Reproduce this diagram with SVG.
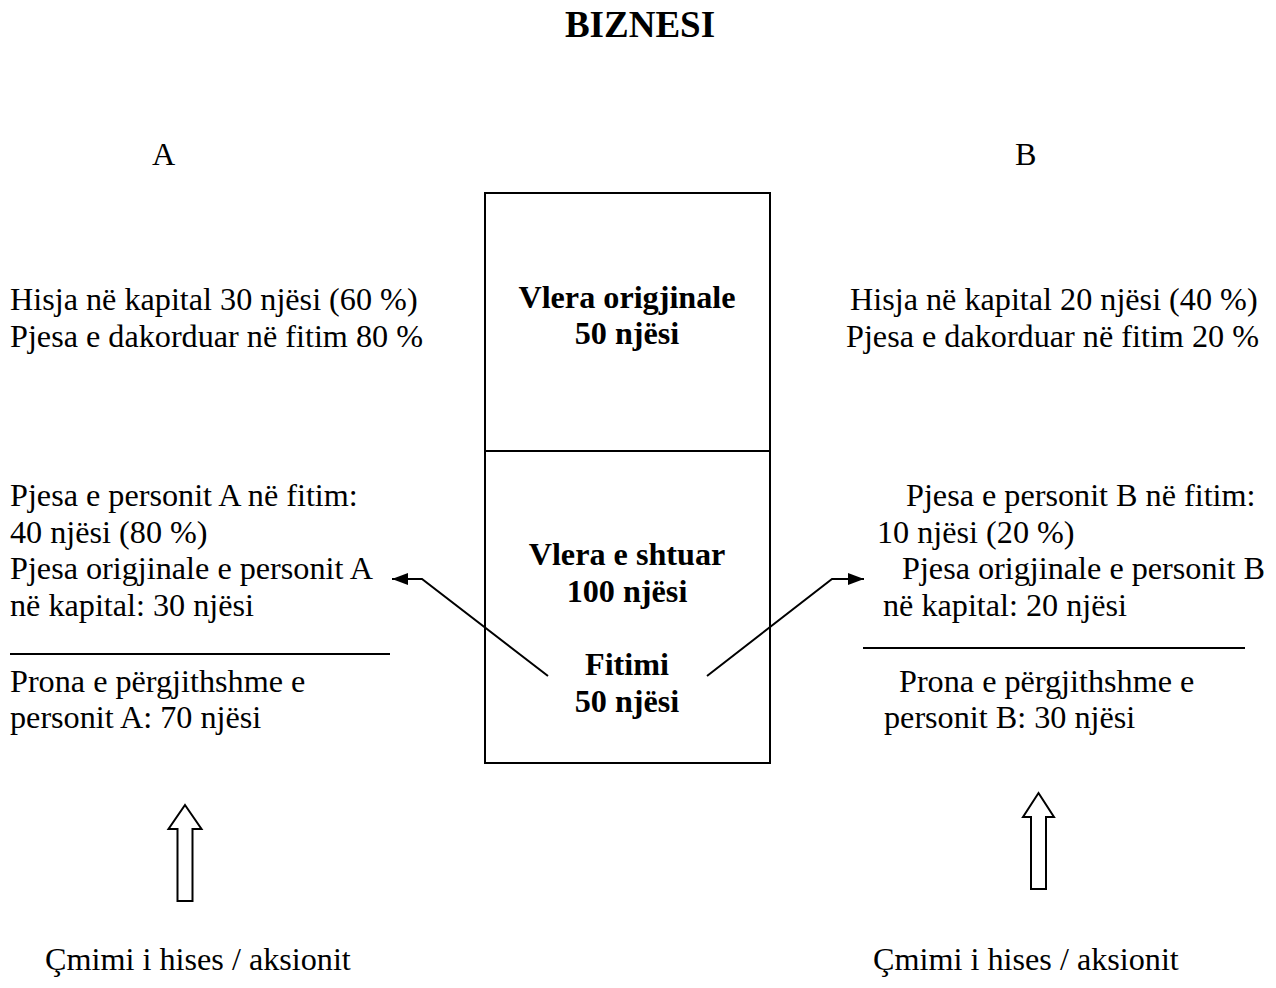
<svg xmlns="http://www.w3.org/2000/svg" width="1276" height="988" viewBox="0 0 1276 988">
<style>
text{font-family:"Liberation Serif","Times New Roman",serif;font-size:32.2px;fill:#000}
.b{font-weight:bold}
.c{text-anchor:middle}
.ln{stroke:#000;stroke-width:2;fill:none}
</style>
<defs>
<marker id="ah" viewBox="0 0 16 12" refX="16" refY="6" markerWidth="16" markerHeight="12" markerUnits="userSpaceOnUse" orient="auto">
<path d="M0,0 L16,6 L0,12 Z" fill="#000"/>
</marker>
</defs>
<rect width="1276" height="988" fill="#fff"/>
<text class="b c" x="640" y="37" style="font-size:37px">BIZNESI</text>
<text x="152" y="165">A</text>
<text x="1015" y="165">B</text>
<g id="box">
<rect class="ln" x="485" y="193" width="285" height="570"/>
<line class="ln" x1="485" y1="451" x2="770" y2="451"/>
<text class="b c" x="627" y="308">Vlera origjinale</text>
<text class="b c" x="627" y="344">50 njësi</text>
<text class="b c" x="627" y="565">Vlera e shtuar</text>
<text class="b c" x="627" y="602">100 njësi</text>
<text class="b c" x="627" y="675">Fitimi</text>
<text class="b c" x="627" y="712">50 njësi</text>
</g>
<g id="a-top">
<text x="10" y="310">Hisja në kapital 30 njësi (60 %)</text>
<text x="10" y="347">Pjesa e dakorduar në fitim 80 %</text>
</g>
<g id="b-top">
<text x="850" y="310">Hisja në kapital 20 njësi (40 %)</text>
<text x="846" y="347">Pjesa e dakorduar në fitim 20 %</text>
</g>
<g id="a-share">
<text x="10" y="506">Pjesa e personit A në fitim:</text>
<text x="10" y="543">40 njësi (80 %)</text>
<text x="10" y="579">Pjesa origjinale e personit A</text>
<text x="10" y="616">në kapital: 30 njësi</text>
<line class="ln" x1="10" y1="654" x2="390" y2="654"/>
<text x="10" y="692">Prona e përgjithshme e</text>
<text x="10" y="728">personit A: 70 njësi</text>
</g>
<g id="b-share">
<text x="906" y="506">Pjesa e personit B në fitim:</text>
<text x="877" y="543">10 njësi (20 %)</text>
<text x="902" y="579">Pjesa origjinale e personit B</text>
<text x="883" y="616">në kapital: 20 njësi</text>
<line class="ln" x1="863" y1="648" x2="1245" y2="648"/>
<text x="899" y="692">Prona e përgjithshme e</text>
<text x="884" y="728">personit B: 30 njësi</text>
</g>
<g id="connectors">
<polyline class="ln" points="548,676 422,579 392,579" marker-end="url(#ah)"/>
<polyline class="ln" points="707,676 832,579 864,579" marker-end="url(#ah)"/>
<path class="ln" d="M185,805 L201.5,829 L192.5,829 L192.5,901 L177.5,901 L177.5,829 L168.5,829 Z"/>
<path class="ln" d="M1038.5,793 L1054,817 L1046,817 L1046,889 L1031,889 L1031,817 L1023,817 Z"/>
</g>
<g id="a-price"><text x="45" y="970">Çmimi i hises / aksionit</text></g>
<g id="b-price"><text x="873" y="970">Çmimi i hises / aksionit</text></g>
</svg>
